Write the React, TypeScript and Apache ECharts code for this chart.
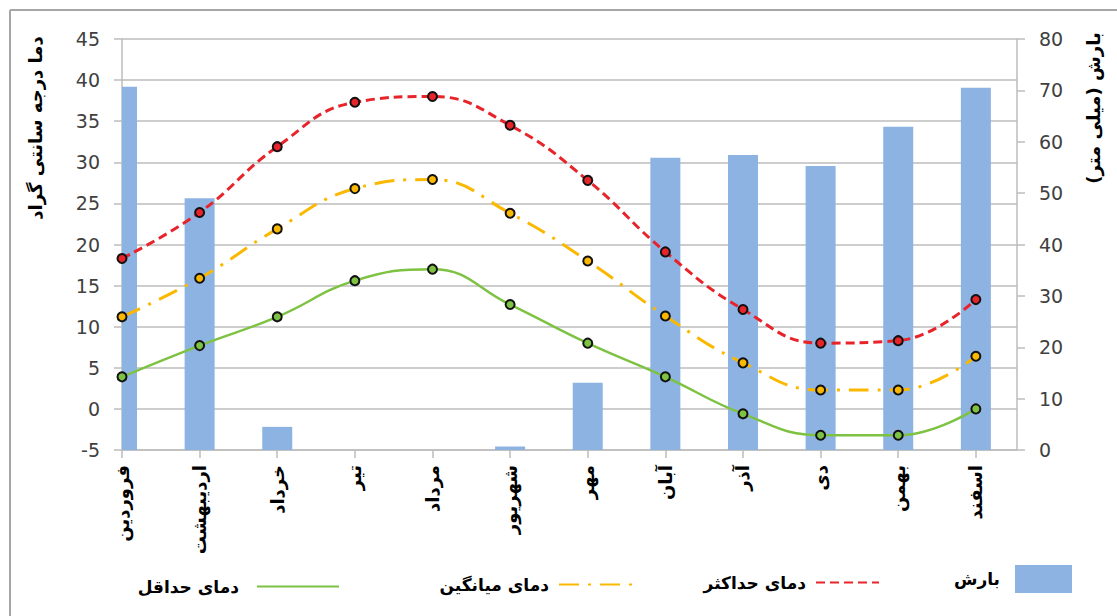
import React, { useEffect, useRef } from "react";
import * as echarts from "echarts";

const months = ["فروردین", "اردیبهشت", "خرداد", "تیر", "مرداد", "شهریور", "مهر", "آبان", "آذر", "دی", "بهمن", "اسفند"];
const rainfall = [70.7, 49.0, 4.5, 0, 0, 0.7, 13.1, 56.9, 57.4, 55.3, 62.9, 70.5];
const tempMax = [18.3, 23.9, 31.9, 37.3, 38.0, 34.5, 27.8, 19.1, 12.1, 8.0, 8.3, 13.3];
const tempMean = [11.2, 15.9, 21.9, 26.8, 27.9, 23.8, 18.0, 11.3, 5.6, 2.3, 2.3, 6.4];
const tempMin = [3.9, 7.7, 11.2, 15.6, 17.0, 12.7, 8.0, 3.9, -0.6, -3.2, -3.2, 0.0];
const tempAxis = { min: -5, max: 45, interval: 5 };
const rainAxis = { min: 0, max: 80, interval: 10 };
const seriesNames = { rain: "بارش", max: "دمای حداکثر", mean: "دمای میانگین", min: "دمای حداقل" };
const titleTemp = "دما درجه سانتی گراد";
const titleRain = "بارش (میلی متر)";

const AR_FONT = "'DejaVu Sans', sans-serif";
const NUM_FONT = "'DejaVu Sans', sans-serif";
const GRID = "#bdbdbd";
const BAR_COLOR = "#8db3e2";

export default function App() {
  const ref = useRef<HTMLDivElement>(null);
  useEffect(() => {
    if (!ref.current) return;
    const chart = echarts.init(ref.current, undefined, { renderer: "svg" });
    const idx = months.map((_, i) => i);
    const pairs = (arr: number[]) => arr.map((v, i) => [i, v]);
    const marker = (color: string) => ({
      symbol: "circle",
      symbolSize: 9,
      itemStyle: { color, borderColor: "#111", borderWidth: 2 },
    });
    const legendBase = (gap: number) => ({
      orient: "horizontal",
      align: "right",
      padding: 0,
      selectedMode: false,
      itemStyle: { opacity: 0 },
      formatter: (name: string) => `{t|${name}}`,
      textStyle: {
        rich: {
          t: {
            fontFamily: AR_FONT,
            fontWeight: "bold",
            fontSize: 17,
            color: "#000",
            padding: [0, gap, 0, 0],
          },
        },
      },
    });
    chart.setOption({
      animation: false,
      backgroundColor: "#fff",
      grid: { left: 122, right: 100, top: 39, bottom: 166, containLabel: false },
      xAxis: {
        type: "value",
        min: 0,
        max: 11.53,
        interval: 1,
        axisLine: { show: true, onZero: false, lineStyle: { color: GRID, width: 1.5 } },
        axisTick: { show: true, length: 8, customValues: idx, lineStyle: { color: GRID, width: 1.5 } },
        axisLabel: {
          customValues: idx,
          rotate: 90,
          margin: 15,
          fontFamily: AR_FONT,
          fontWeight: "bold",
          fontSize: 18,
          color: "#000",
          formatter: (v: number) => (Number.isInteger(v) && months[v] !== undefined ? months[v] : ""),
        },
        splitLine: { show: false },
      },
      yAxis: [
        {
          type: "value",
          ...tempAxis,
          position: "left",
          axisLine: { show: true, lineStyle: { color: GRID, width: 1.5 } },
          axisTick: { show: true, length: 8, lineStyle: { color: GRID, width: 1.5 } },
          axisLabel: { margin: 22, fontFamily: NUM_FONT, fontSize: 19, color: "#404040" },
          splitLine: { show: true, lineStyle: { color: GRID, width: 1.5 } },
        },
        {
          type: "value",
          ...rainAxis,
          position: "right",
          axisLine: { show: true, lineStyle: { color: GRID, width: 1.5 } },
          axisTick: { show: true, length: 8, lineStyle: { color: GRID, width: 1.5 } },
          axisLabel: { margin: 22, fontFamily: NUM_FONT, fontSize: 19, color: "#404040" },
          splitLine: { show: false },
        },
      ],
      legend: [
        { ...legendBase(10), data: [{ name: seriesNames.rain, icon: "rect" }], right: 45, top: 565, itemWidth: 57, itemHeight: 28, itemStyle: {} },
        { ...legendBase(5), data: [seriesNames.max], right: 237, top: 574, itemWidth: 63, itemHeight: 14 },
        { ...legendBase(5), data: [seriesNames.mean], right: 475, top: 576, itemWidth: 82, itemHeight: 14 },
        { ...legendBase(13), data: [seriesNames.min], right: 777, top: 578, itemWidth: 82, itemHeight: 14 },
      ],
      series: [
        {
          name: seriesNames.rain,
          type: "custom",
          yAxisIndex: 1,
          data: pairs(rainfall),
          encode: { x: 0, y: 1 },
          itemStyle: { color: BAR_COLOR },
          z: 1,
          renderItem: (params: any, api: any) => {
            const xv = api.value(0);
            const v = api.value(1);
            const top = api.coord([xv, v]);
            const base = api.coord([xv, 0]);
            const w = 30;
            const cs = params.coordSys;
            const shape = echarts.graphic.clipRectByRect(
              { x: top[0] - w / 2, y: top[1], width: w, height: base[1] - top[1] },
              { x: cs.x, y: cs.y, width: cs.width, height: cs.height }
            );
            if (!shape || shape.height <= 0) return null;
            return { type: "rect", shape, style: { fill: BAR_COLOR } };
          },
        },
        {
          name: seriesNames.max,
          type: "line",
          yAxisIndex: 0,
          smooth: 0.45,
          data: pairs(tempMax),
          lineStyle: { color: "#e8242b", width: 3, type: [9, 5] },
          ...marker("#e8242b"),
          z: 5,
        },
        {
          name: seriesNames.mean,
          type: "line",
          yAxisIndex: 0,
          smooth: 0.45,
          data: pairs(tempMean),
          lineStyle: { color: "#fbb800", width: 3, type: [20, 9, 3, 9] },
          ...marker("#fbb800"),
          z: 4,
        },
        {
          name: seriesNames.min,
          type: "line",
          yAxisIndex: 0,
          smooth: 0.45,
          data: pairs(tempMin),
          lineStyle: { color: "#7dc242", width: 2.5 },
          ...marker("#7dc242"),
          z: 3,
        },
      ],
      graphic: [
        { type: "line", shape: { x1: 10, y1: 10, x2: 1117, y2: 10 }, style: { stroke: "#a6a6a6", lineWidth: 2 } },
        { type: "line", shape: { x1: 10, y1: 10, x2: 10, y2: 616 }, style: { stroke: "#a6a6a6", lineWidth: 2 } },
        {
          type: "text",
          x: 35,
          y: 128,
          rotation: Math.PI / 2,
          style: {
            text: titleTemp,
            fontFamily: AR_FONT,
            fontWeight: "bold",
            fontSize: 18,
            fill: "#000",
            textAlign: "center",
            textVerticalAlign: "middle",
          },
        },
        {
          type: "text",
          x: 1093,
          y: 108,
          rotation: Math.PI / 2,
          style: {
            text: titleRain,
            fontFamily: AR_FONT,
            fontWeight: "bold",
            fontSize: 18,
            fill: "#000",
            textAlign: "center",
            textVerticalAlign: "middle",
          },
        },
      ],
    });
    return () => chart.dispose();
  }, []);
  return (
    <div
      ref={ref}
      style={{ position: "fixed", left: 0, top: 0, width: 1117, height: 616, background: "#fff" }}
    />
  );
}
